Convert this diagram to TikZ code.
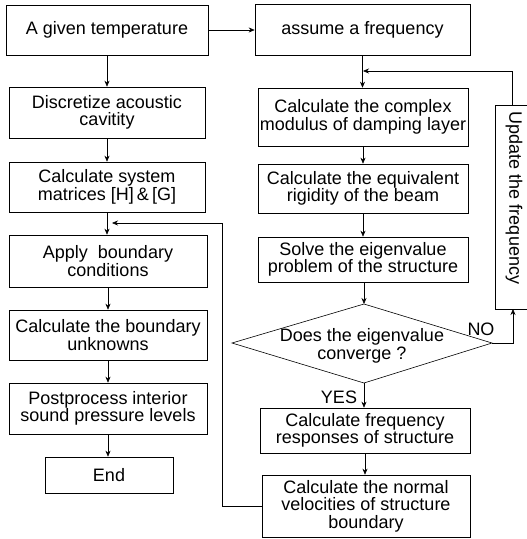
\documentclass[tikz,border=0pt]{standalone}
\usepackage{fontspec}
\setmainfont{Liberation Sans}
\usetikzlibrary{arrows.meta}
\begin{document}
\begin{tikzpicture}[x=1pt,y=-1pt,
  every node/.style={font=\fontsize{18}{17.5}\selectfont},
  box/.style={draw,line width=0.6pt,rectangle,align=center,inner sep=0pt},
  arr/.style={line width=0.6pt,-{Stealth[length=6pt,width=5pt]}},
  ln/.style={line width=0.6pt},
  lbl/.style={inner sep=0pt}]
\useasboundingbox (0,0) rectangle (527,539);
% left column
\node[box,minimum width=202pt,minimum height=50pt] (temp) at (107,30) {A given temperature};
\node[box,minimum width=196pt,minimum height=51pt] (disc) at (107,112.5) {Discretize acoustic\\cavitity};
\node[box,minimum width=196pt,minimum height=50pt] (sysm) at (107,187) {Calculate system\\matrices [H]\,\&\,[G]};
\node[box,minimum width=198pt,minimum height=52pt] (apply) at (108,261) {Apply\ \ boundary\\conditions};
\node[box,minimum width=198pt,minimum height=50pt] (bunk) at (108,335) {Calculate the boundary\\unknowns};
\node[box,minimum width=198pt,minimum height=51pt] (post) at (108,408.5) {Postprocess interior\\sound pressure levels};
\node[box,minimum width=128pt,minimum height=36pt] (end) at (109,475) {End};
% right column
\node[box,minimum width=215pt,minimum height=51pt] (freq) at (362.5,29.5) {assume a frequency};
\node[box,minimum width=210pt,minimum height=58pt] (cmod) at (363,117) {Calculate the complex\\modulus of damping layer};
\node[box,minimum width=210pt,minimum height=49pt] (rig) at (363,188.5) {Calculate the equivalent\\rigidity of the beam};
\node[box,minimum width=210pt,minimum height=45pt] (solve) at (363,259.5) {Solve the eigenvalue\\problem of the structure};
\coordinate (dT) at (364,304);
\coordinate (dB) at (364,383);
\coordinate (dL) at (232,343);
\coordinate (dR) at (492,343);
\draw[ln] (dT) -- (dR) -- (dB) -- (dL) -- cycle;
\node[align=center,inner sep=0pt] (dia) at (362,346) {Does the eigenvalue\\converge ?};
\node[box,minimum width=210pt,minimum height=45pt] (fresp) at (365,430.5) {Calculate frequency\\responses of structure};
\node[box,minimum width=208pt,minimum height=62pt] (normv) at (366,506) {Calculate the normal\\velocities of structure\\boundary};
\node[box,minimum width=45pt,minimum height=204pt] (upd) at (517.5,207) {};
\node[rotate=-90,inner sep=0pt] (updt) at (514,198) {Update the frequency};
\node[lbl] (no) at (481,329) {NO};
\node[lbl] (yes) at (339,397) {YES};
% arrows left
\draw[arr] (temp) -- (disc);
\draw[arr] (disc) -- (sysm);
\draw[arr] (sysm.south) -- (sysm.south |- apply.north);
\draw[arr] (apply.south) -- (apply.south |- bunk.north);
\draw[arr] (bunk.south) -- (bunk.south |- post.north);
\draw[arr] (post.south) -- (post.south |- end.north);
% arrows right
\draw[arr] (temp.east) -- (temp.east -| freq.west);
\draw[arr] (freq.south) -- (freq.south |- cmod.north);
\draw[arr] (cmod.south) -- (cmod.south |- rig.north);
\draw[arr] (rig.south) -- (rig.south |- solve.north);
\draw[arr] (solve.south -| dT) -- (dT);
\draw[arr] (dB) -- (dB |- fresp.north);
\draw[arr] (fresp.south) -- (fresp.south |- normv.north);
\coordinate (merge) at (363,71);
\coordinate (upin) at (512.5,105);
\coordinate (upout) at (513,309);
\draw[arr] (upin) |- (merge);
\draw[arr] (dR) -| (upout);
\coordinate (fb) at (112,223);
\coordinate (fbc) at (222,506);
\draw[arr] (normv.west) -- (fbc) |- (fb);
\end{tikzpicture}
\end{document}
